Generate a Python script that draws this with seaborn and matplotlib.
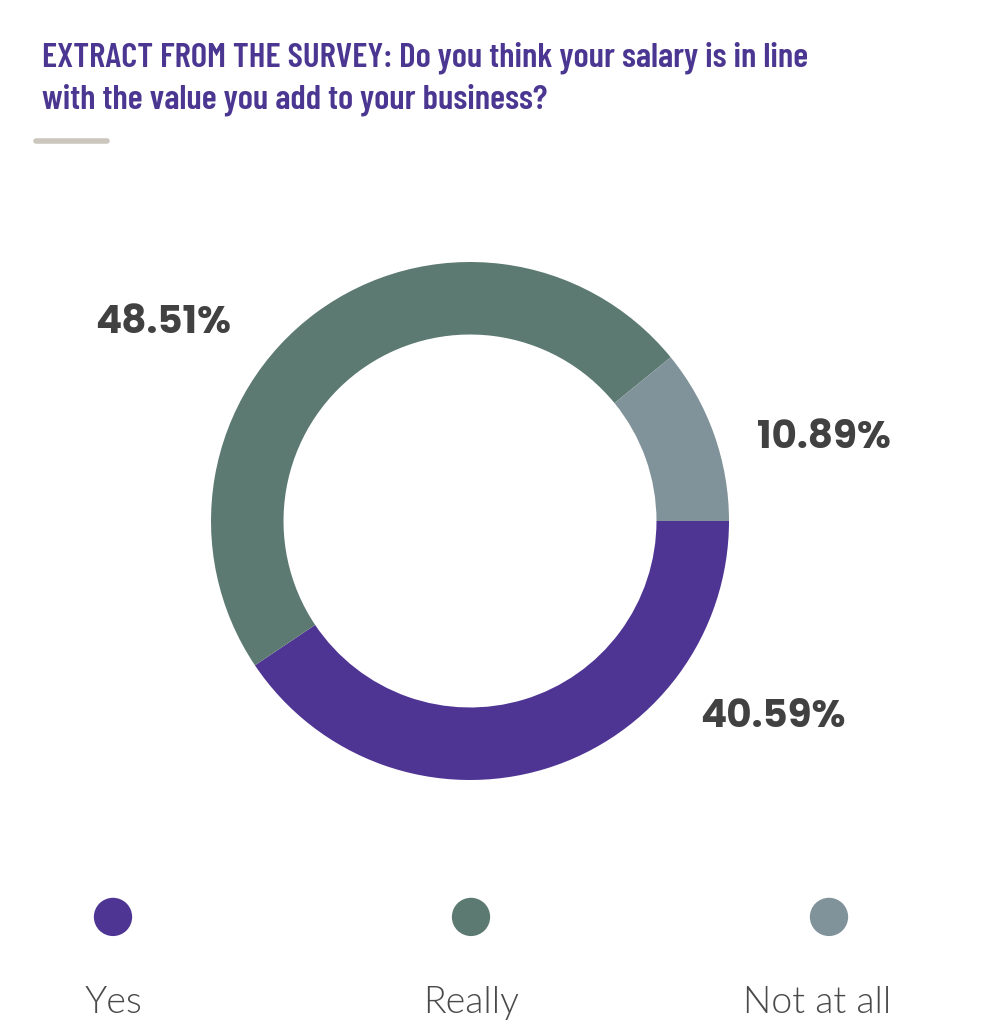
import matplotlib
matplotlib.use("Agg")
import matplotlib.pyplot as plt
import seaborn as sns
import pandas as pd
from matplotlib.lines import Line2D

categories = ["Yes", "Really", "Not at all"]
values = [40.59, 48.51, 10.89]
value_labels = ["40.59%", "48.51%", "10.89%"]
colors = ["#4E3594", "#5D7A72", "#81939A"]
title = "EXTRACT FROM THE SURVEY: Do you think your salary is in line\nwith the value you add to your business?"

sns.set_theme(style="white")
plt.rcParams['font.family'] = ['DejaVu Sans']

W, H = 1008, 1024
fig = plt.figure(figsize=(W / 100, H / 100), dpi=100)
fig.patch.set_facecolor("white")

# Title
fig.text(42 / W, 1 - 41 / H, title, ha="left", va="top", color="#4B3792",
         fontsize=25.2, fontweight=600, family=["Barlow Condensed", "DejaVu Sans"],
         linespacing=1.38)
fig.add_artist(Line2D([36 / W, 107 / W], [1 - 141 / H, 1 - 141 / H],
                      color="#CBC7BF", lw=4, transform=fig.transFigure))

# Donut
cx, cy, r = 470, 521, 259
ax = fig.add_axes([(cx - r) / W, 1 - (cy + r) / H, 2 * r / W, 2 * r / H])
ax.pie(values, colors=colors, startangle=0, counterclock=False, radius=1,
       wedgeprops=dict(width=0.28, edgecolor="none"))
ax.set_xlim(-1, 1)
ax.set_ylim(-1, 1)
ax.set_aspect("equal")
ax.axis("off")

label_pos = {"48.51%": (-1.185, 0.764), "10.89%": (1.367, 0.317), "40.59%": (1.17, -0.757)}
for lab in value_labels:
    x, y = label_pos[lab]
    ax.text(x, y, lab, ha="center", va="center", fontsize=28, fontweight="bold",
            color="#414141", family=["Poppins", "DejaVu Sans"], clip_on=False)

# Legend
lax = fig.add_axes([(113 - 179) / W, 1 - 1040 / H, (829 - 113 + 358) / W, (1040 - 880) / H])
df = pd.DataFrame({"cat": categories, "x": [0, 1, 2], "y": [1, 1, 1]})
sns.scatterplot(data=df, x="x", y="y", hue="cat", palette=dict(zip(categories, colors)),
                s=760, linewidth=0, ax=lax, legend=False)
lax.set_xlim(-0.5, 2.5)
lax.set_ylim(0, 1.30)
lax.axis("off")
label_x = [-0.01, -0.003, 1.967]
for i, c in enumerate(categories):
    lax.text(i if i < 2 else label_x[2], 0.30, c, ha="center", va="center", fontsize=27,
             color="#4A4A4A", fontweight=300, family=["Lato", "DejaVu Sans"])

fig.savefig("out.png", dpi=100, facecolor="white")
